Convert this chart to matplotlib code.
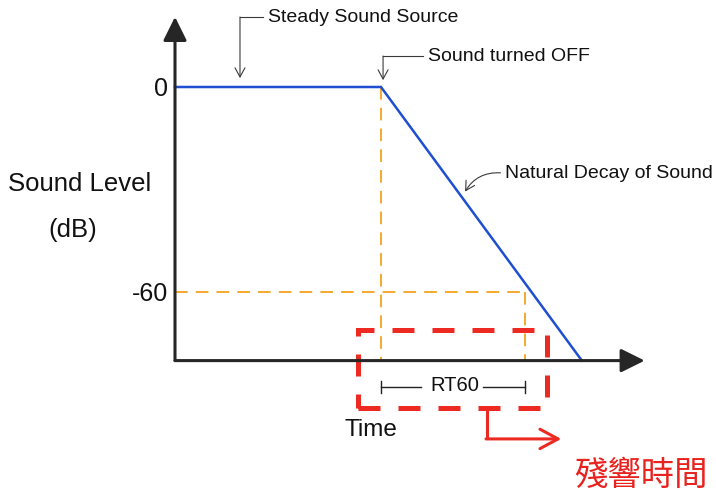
import matplotlib
matplotlib.use("Agg")
import matplotlib.pyplot as plt
from matplotlib.patches import Rectangle

plt.rcParams["font.family"] = ["Liberation Sans", "DejaVu Sans"]

# data (time in arbitrary units, level in dB)
decay_time = [0.0, 2.0, 3.95]
decay_level = [0, 0, -80]
t_off = 2.0
t_rt60_end = 3.4
floor_level = -80
level_ticks = [0, -60]
level_tick_labels = ["0", "-60"]

# layout: pixels per unit, origin position in the 716x492 image
PX_T = 103.0
PX_DB = 3.42
X0_PX = 175.0
Y0_PX = 87.0
W, H = 716, 492

AXIS_COLOR = "#262626"
ORANGE = "#f5a21c"
BLUE = "#1f4fd0"
RED = "#ec2a22"
NOTE_COLOR = "#3a3a3a"


def main() -> None:
    fig = plt.figure(figsize=(W / 100, H / 100), dpi=100)
    ax = fig.add_axes([0, 0, 1, 1])
    ax.set_xlim(-X0_PX / PX_T, (W - X0_PX) / PX_T)
    ax.set_ylim(-(H - Y0_PX) / PX_DB, Y0_PX / PX_DB)
    ax.axis("off")

    # orange reference lines
    dash = dict(color=ORANGE, lw=1.3, dashes=(7, 4.5))
    ax.plot([0, t_rt60_end], [level_ticks[1]] * 2, **dash)
    ax.plot([t_off, t_off], [level_ticks[0], floor_level], **dash)
    ax.plot([t_rt60_end, t_rt60_end], [level_ticks[1], floor_level], **dash)

    # the level curve
    ax.plot(decay_time, decay_level, color=BLUE, lw=1.8, solid_joinstyle="miter")

    # axes with arrow heads
    head = "-|>,head_length=1.45,head_width=0.72"
    ax.annotate("", xy=(0, 20.5), xytext=(0, floor_level),
                arrowprops=dict(arrowstyle=head, lw=2.2, color=AXIS_COLOR,
                                shrinkA=0, shrinkB=0, mutation_scale=10))
    ax.annotate("", xy=(4.56, floor_level), xytext=(0, floor_level),
                arrowprops=dict(arrowstyle=head, lw=2.2, color=AXIS_COLOR,
                                shrinkA=0, shrinkB=0, mutation_scale=10))

    for level, label in zip(level_ticks, level_tick_labels):
        ax.text(-0.07, level - 0.6, label, ha="right", va="center",
                fontsize=18, color="#111111")

    ax.text(-0.93, -28.4, "Sound Level", ha="center", va="center",
            fontsize=18.5, color="#111111")
    ax.text(-0.99, -41.8, "(dB)", ha="center", va="center",
            fontsize=18.5, color="#111111")
    ax.text(1.90, -100.3, "Time", ha="center", va="center",
            fontsize=17.5, color="#111111")

    # annotation arrows
    note = "->,head_length=0.55,head_width=0.3"
    ax.plot([0.631, 0.85], [20.47, 20.47], color=NOTE_COLOR, lw=0.8)
    ax.annotate("", xy=(0.631, 2.6), xytext=(0.631, 20.47),
                arrowprops=dict(arrowstyle=note, lw=0.8, color=NOTE_COLOR,
                                shrinkA=0, shrinkB=0, mutation_scale=12))
    ax.text(0.905, 20.2, "Steady Sound Source", ha="left", va="center",
            fontsize=14, color="#111111")

    ax.plot([2.02, 2.41], [9.06, 9.06], color=NOTE_COLOR, lw=0.8)
    ax.annotate("", xy=(2.02, 2.0), xytext=(2.02, 9.06),
                arrowprops=dict(arrowstyle=note, lw=0.8, color=NOTE_COLOR,
                                shrinkA=0, shrinkB=0, mutation_scale=12))
    ax.text(2.456, 8.8, "Sound turned OFF", ha="left", va="center",
            fontsize=14, color="#111111")

    ax.annotate("", xy=(2.816, -30.6), xytext=(3.16, -25.1),
                arrowprops=dict(arrowstyle=note, lw=0.8, color=NOTE_COLOR,
                                shrinkA=0, shrinkB=0, mutation_scale=12,
                                connectionstyle="arc3,rad=0.3"))
    ax.text(3.204, -25.4, "Natural Decay of Sound", ha="left", va="center",
            fontsize=14, color="#111111")

    # RT60 bracket
    y_br = -87.7
    ax.plot([t_off, 2.39], [y_br, y_br], color="#222222", lw=1.0)
    ax.plot([2.99, t_rt60_end], [y_br, y_br], color="#222222", lw=1.0)
    for t in (t_off, t_rt60_end):
        ax.plot([t, t], [y_br - 1.8, y_br + 1.8], color="#222222", lw=1.0)
    ax.text((t_off + t_rt60_end) / 2 + 0.02, y_br + 0.4, "RT60",
            ha="center", va="center", fontsize=14.5, color="#111111")

    # red highlight box and arrow
    box = Rectangle((1.777, -93.86), 3.612 - 1.777, 93.86 - 71.05,
                    fill=False, edgecolor=RED, lw=3.6,
                    linestyle=(0, (4.4, 3.6)))
    ax.add_patch(box)
    ax.plot([3.03, 3.03], [-93.86, -102.9], color=RED, lw=2.2,
            solid_capstyle="butt")
    ax.annotate("", xy=(3.75, -102.9), xytext=(3.02, -102.9),
                arrowprops=dict(arrowstyle="->,head_length=1.3,head_width=0.7",
                                lw=2.2, color=RED, shrinkA=0, shrinkB=0,
                                mutation_scale=10))
    ax.text(3.88, -113.7, "殘響時間", ha="left", va="center", fontsize=24,
            color="#e8231f", family=["Noto Sans CJK TC", "DejaVu Sans"])

    fig.savefig("out.png", dpi=100)
    plt.close(fig)


if __name__ == "__main__":
    main()
